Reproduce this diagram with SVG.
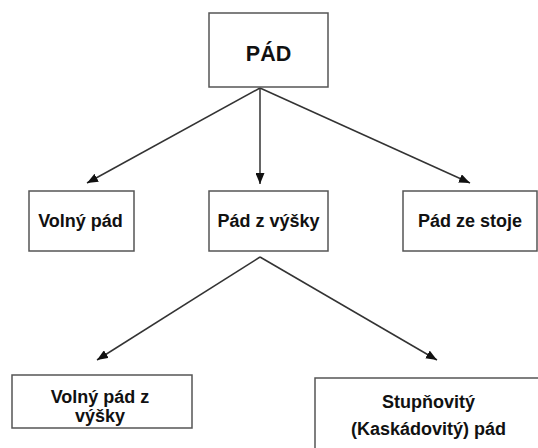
<svg xmlns="http://www.w3.org/2000/svg" width="538" height="448" viewBox="0 0 538 448">
<style>
.box{fill:#fff;stroke:#555;stroke-width:1.5}
.t{font-family:"Liberation Sans",Arial,sans-serif;font-weight:bold;font-size:18px;fill:#111;text-anchor:middle}
.c{stroke:#333;stroke-width:1.5;fill:none;marker-end:url(#ah)}
</style>
<defs>
<marker id="ah" viewBox="0 0 11 9" refX="11" refY="4.5" markerWidth="11" markerHeight="9" markerUnits="userSpaceOnUse" orient="auto">
<path d="M0,0 L11,4.5 L0,9 Z" fill="#111"/>
</marker>
</defs>
<rect width="538" height="448" fill="#fff"/>
<g id="connectors">
<line class="c" x1="260" y1="88" x2="87" y2="183"/>
<line class="c" x1="260" y1="88" x2="260" y2="184"/>
<line class="c" x1="260" y1="88" x2="470" y2="183"/>
<line class="c" x1="260" y1="257" x2="97" y2="360"/>
<line class="c" x1="260" y1="257" x2="437" y2="360"/>
</g>
<g id="pad">
<rect class="box" x="209" y="13" width="119" height="74"/>
<text class="t" x="268.5" y="61" style="font-size:21.5px">PÁD</text>
</g>
<g id="volny-pad">
<rect class="box" x="29" y="191" width="105" height="60"/>
<text class="t" x="80.5" y="227">Volný pád</text>
</g>
<g id="pad-z-vysky">
<rect class="box" x="209" y="191" width="119" height="60"/>
<text class="t" x="268.5" y="227">Pád z výšky</text>
</g>
<g id="pad-ze-stoje">
<rect class="box" x="403" y="191" width="134" height="60"/>
<text class="t" x="470" y="227">Pád ze stoje</text>
</g>
<g id="volny-pad-z-vysky">
<rect class="box" x="12" y="375" width="180" height="53"/>
<text class="t" x="100" y="403">Volný pád z</text>
<text class="t" x="100" y="422">výšky</text>
</g>
<g id="stupnovity-pad">
<rect class="box" x="315" y="378" width="230" height="80"/>
<text class="t" x="428.5" y="408">Stupňovitý</text>
<text class="t" x="428.5" y="435">(Kaskádovitý) pád</text>
</g>
</svg>
